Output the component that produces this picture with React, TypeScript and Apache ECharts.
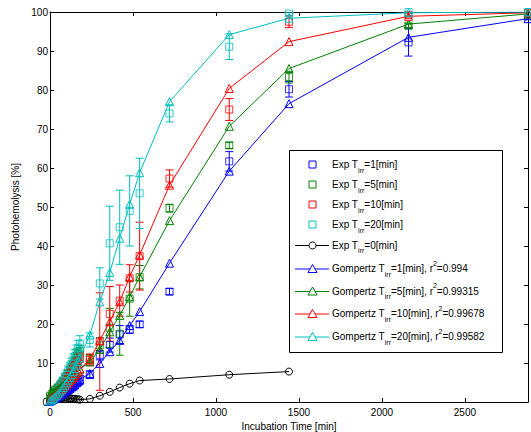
import React, { useEffect, useRef } from 'react';
import * as echarts from 'echarts';

// ---------- data ----------
const times = [0, 10, 20, 30, 40, 50, 60, 70, 80, 90, 100, 110, 120, 130, 140, 150, 160, 170, 180, 240, 300, 360, 420, 480, 540, 720, 1080, 1440, 2160, 2880];
const blackTimes = [0, 10, 20, 30, 40, 50, 60, 70, 80, 90, 100, 110, 120, 130, 140, 150, 160, 170, 180, 240, 300, 360, 420, 480, 540, 720, 1080, 1440];

const fitBlue = [0.3, 0.5, 0.7, 0.9, 1.1, 1.4, 1.7, 2.0, 2.3, 2.6, 2.9, 3.2, 3.5, 3.9, 4.2, 4.6, 5.0, 5.4, 5.8, 7.3, 9.9, 12.9, 15.8, 19.6, 23.2, 35.6, 59.2, 76.5, 93.5, 98.3];
const fitGreen = [1.8, 2.1, 2.4, 2.7, 3.0, 3.3, 3.6, 3.9, 4.2, 4.6, 5.0, 5.4, 5.8, 6.2, 6.6, 7.0, 7.4, 7.9, 8.4, 10.3, 13.5, 18.0, 22.2, 27.0, 32.1, 46.5, 70.7, 85.5, 96.9, 99.5];
const fitRed = [0.6, 0.9, 1.2, 1.5, 1.9, 2.3, 2.7, 3.1, 3.5, 3.9, 4.3, 4.8, 5.3, 5.8, 6.3, 6.8, 7.3, 7.9, 8.5, 10.8, 15.8, 20.6, 25.7, 32.1, 37.7, 55.6, 80.4, 92.4, 98.9, 99.8];
const fitCyan = [0.3, 0.6, 0.9, 1.3, 1.7, 2.1, 2.6, 3.1, 3.7, 4.3, 4.9, 5.6, 6.3, 7.0, 7.8, 8.6, 9.5, 10.4, 11.3, 17.2, 25.7, 33.2, 42.0, 50.7, 58.8, 77.0, 94.2, 98.4, 99.8, 100.0];

const expBlue = [0.0, 0.3, 0.5, 0.8, 1.0, 1.3, 1.6, 1.8, 2.1, 2.5, 2.8, 3.0, 3.4, 3.7, 4.0, 4.4, 4.9, 5.2, 5.7, 7.0, 12.0, 14.6, 17.3, 18.6, 19.9, 28.3, 61.7, 80.2, 92.2, 99.0];
const errBlue = [0.2, 0.3, 0.3, 0.4, 0.4, 0.5, 0.5, 0.5, 0.6, 0.6, 0.7, 0.7, 0.8, 0.8, 0.9, 0.9, 1.0, 1.0, 1.1, 1.0, 1.2, 1.8, 2.3, 1.0, 0.8, 0.8, 2.5, 2.0, 3.5, 1.0];
const expGreen = [1.5, 2.0, 2.6, 3.0, 3.4, 3.8, 4.3, 4.8, 5.4, 6.0, 6.6, 7.3, 8.0, 8.8, 9.6, 10.5, 11.4, 12.4, 13.0, 11.0, 14.5, 19.0, 17.5, 26.5, 32.0, 49.7, 65.8, 83.3, 96.5, 99.6];
const errGreen = [0.3, 0.4, 0.4, 0.5, 0.5, 0.6, 0.6, 0.7, 0.7, 0.8, 0.8, 0.9, 1.0, 1.0, 1.1, 1.2, 1.3, 1.4, 1.5, 1.2, 2.0, 5.0, 5.5, 4.5, 3.0, 1.0, 0.8, 1.5, 0.5, 0.3];
const expRed = [0.8, 1.2, 1.6, 2.0, 2.5, 3.0, 3.5, 4.1, 4.7, 5.3, 6.0, 6.6, 7.3, 8.0, 8.7, 9.4, 10.1, 10.8, 11.5, 10.8, 15.5, 22.6, 26.0, 31.7, 37.4, 57.3, 75.0, 97.5, 99.2, 99.8];
const errRed = [0.3, 0.3, 0.4, 0.4, 0.5, 0.5, 0.6, 0.6, 0.7, 0.7, 0.8, 0.8, 0.9, 0.9, 1.0, 1.0, 1.1, 1.2, 1.3, 1.5, 12.5, 7.0, 4.0, 3.5, 8.7, 2.2, 2.8, 1.5, 0.5, 0.2];
const expCyan = [0.5, 1.0, 1.5, 2.1, 2.7, 3.3, 4.0, 4.7, 5.4, 6.2, 7.0, 7.9, 8.8, 9.7, 10.7, 11.7, 12.8, 13.9, 15.0, 15.9, 30.4, 40.7, 44.8, 49.0, 53.5, 74.0, 91.1, 99.6, 100.0, 100.0];
const errCyan = [0.3, 0.4, 0.5, 0.5, 0.6, 0.7, 0.8, 0.9, 1.0, 1.1, 1.2, 1.3, 1.4, 1.5, 1.6, 1.7, 1.8, 1.9, 2.0, 1.8, 4.0, 9.5, 9.5, 9.0, 9.0, 2.2, 3.3, 0.4, 0.0, 0.0];
const expBlack = [0.2, 0.4, 0.5, 0.6, 0.8, 0.9, 1.0, 1.1, 1.0, 1.2, 1.1, 1.0, 0.9, 0.9, 0.8, 0.8, 0.7, 0.7, 0.6, 0.8, 1.6, 2.6, 3.7, 4.7, 5.5, 5.9, 7.0, 7.8];

const tirr = ['1', '5', '10', '20'];
const r2 = ['0.994', '0.99315', '0.99678', '0.99582'];

// ---------- styling ----------
const BLUE = '#0000ff';
const GREEN = '#008000';
const RED = '#ff0000';
const CYAN = '#00bfbf';
const BLACK = '#000000';
const colors = [BLUE, GREEN, RED, CYAN];
const FONT = 'Liberation Sans, Arial, Helvetica, sans-serif';
const CLEAR = 'rgba(255,255,255,0)';

const pts = (t: number[], v: number[]) => v.map((y, i) => [t[i], y]);
const bars = (t: number[], v: number[], e: number[]) => v.map((y, i) => [t[i], y, e[i]]);

const errorSeries = (data: number[][], color: string) => ({
  type: 'custom',
  clip: true,
  silent: true,
  data,
  encode: { x: 0, y: 1 },
  renderItem: (params: any, api: any) => {
    const t = api.value(0);
    const v = api.value(1);
    const e = api.value(2);
    const hi = api.coord([t, v + e]);
    const lo = api.coord([t, v - e]);
    const w = 4;
    const style = { stroke: color, lineWidth: 1, fill: 'none' };
    return {
      type: 'group',
      children: [
        { type: 'line', shape: { x1: hi[0], y1: hi[1], x2: lo[0], y2: lo[1] }, style },
        { type: 'line', shape: { x1: hi[0] - w, y1: hi[1], x2: hi[0] + w, y2: hi[1] }, style },
        { type: 'line', shape: { x1: lo[0] - w, y1: lo[1], x2: lo[0] + w, y2: lo[1] }, style },
      ],
    };
  },
});

const squareSeries = (data: number[][], color: string) => ({
  type: 'scatter',
  data,
  symbol: 'rect',
  symbolSize: 7,
  silent: true,
  itemStyle: { color: CLEAR, borderColor: color, borderWidth: 1 },
});

const fitSeries = (data: number[][], color: string) => ({
  type: 'line',
  data,
  symbol: 'triangle',
  symbolSize: 8,
  showSymbol: true,
  showAllSymbol: true,
  silent: true,
  lineStyle: { color, width: 1 },
  itemStyle: { color: CLEAR, borderColor: color, borderWidth: 1 },
});

// legend (drawn with graphic)
const LX = 289;
const LY = 150;
const LW = 213;
const LH = 202;
const rowY = [164.5, 184.5, 204.5, 224.5, 245, 268.5, 291, 313.5, 336.5];

function buildLegend() {
  const items: any[] = [];
  items.push({
    type: 'rect',
    shape: { x: LX + 0.5, y: LY + 0.5, width: LW, height: LH },
    style: { fill: '#fff', stroke: '#000', lineWidth: 1 },
    z: 100,
  });
  const rich = {
    n: { fontSize: 10, fontFamily: FONT, lineHeight: 18, verticalAlign: 'middle', fill: '#000' },
    s: { fontSize: 7, fontFamily: FONT, lineHeight: 10, verticalAlign: 'bottom', fill: '#000' },
    p: { fontSize: 7, fontFamily: FONT, lineHeight: 10, verticalAlign: 'top', fill: '#000' },
  };
  const mx = 312.5;
  const lineX1 = 295;
  const lineX2 = 329;
  const tx = 332;
  const entries: { kind: string; color: string; text: string }[] = [];
  tirr.forEach((t, i) => entries.push({ kind: 'sq', color: colors[i], text: `{n|Exp T}{s|irr}{n|=${t}[min]}` }));
  entries.push({ kind: 'circ', color: BLACK, text: `{n|Exp T}{s|irr}{n|=0[min]}` });
  tirr.forEach((t, i) =>
    entries.push({ kind: 'tri', color: colors[i], text: `{n|Gompertz T}{s|irr}{n|=${t}[min], r}{p|2}{n|=${r2[i]}}` })
  );
  entries.forEach((en, i) => {
    const y = rowY[i];
    if (en.kind !== 'sq') {
      items.push({
        type: 'line',
        shape: { x1: lineX1, y1: y + 0.5, x2: lineX2, y2: y + 0.5 },
        style: { stroke: en.color, lineWidth: 1 },
        z: 101,
      });
    }
    if (en.kind === 'sq') {
      items.push({
        type: 'rect',
        shape: { x: mx - 3.5, y: y - 3.5, width: 7, height: 7 },
        style: { fill: 'none', stroke: en.color, lineWidth: 1 },
        z: 102,
      });
    } else if (en.kind === 'circ') {
      items.push({
        type: 'circle',
        shape: { cx: mx, cy: y + 0.5, r: 3.5 },
        style: { fill: '#fff', stroke: en.color, lineWidth: 1 },
        z: 102,
      });
    } else {
      items.push({
        type: 'polygon',
        shape: { points: [[mx, y - 4], [mx - 4.5, y + 4], [mx + 4.5, y + 4]] },
        style: { fill: '#fff', stroke: en.color, lineWidth: 1 },
        z: 102,
      });
    }
    items.push({
      type: 'text',
      x: tx,
      y: y,
      style: { text: en.text, rich, fill: '#000', align: 'left', verticalAlign: 'middle' },
      z: 103,
    });
  });
  return items;
}

export default function App() {
  const ref = useRef<HTMLDivElement>(null);
  useEffect(() => {
    if (!ref.current) return;
    const chart = echarts.init(ref.current, null, { renderer: 'svg' });
    const axisCommon = {
      type: 'value',
      axisLine: { show: true, onZero: false, lineStyle: { color: '#000', width: 1 } },
      axisTick: { show: true, inside: true, length: 4, lineStyle: { color: '#000' } },
      splitLine: { show: false },
    };
    const option: any = {
      animation: false,
      backgroundColor: '#fff',
      grid: { left: 50, right: 3, top: 12, bottom: 30, containLabel: false, outerBoundsMode: 'none' },
      xAxis: [
        {
          ...axisCommon,
          position: 'bottom',
          min: 0,
          max: 2880,
          interval: 500,
          axisLabel: {
            color: '#000',
            fontSize: 10,
            fontFamily: FONT,
            margin: 5,
            showMaxLabel: false,
            formatter: (v: number) => String(v),
          },
          name: 'Incubation Time [min]',
          nameLocation: 'middle',
          nameGap: 16,
          nameTextStyle: { color: '#000', fontSize: 10, fontFamily: FONT },
        },
        {
          ...axisCommon,
          position: 'top',
          min: 0,
          max: 2880,
          interval: 500,
          axisLabel: { show: false },
        },
      ],
      yAxis: [
        {
          ...axisCommon,
          position: 'left',
          min: 0,
          max: 100,
          interval: 10,
          axisLabel: { color: '#000', fontSize: 10, fontFamily: FONT, margin: 2, formatter: (v: number) => String(v) },
          name: 'Photohemolysis [%]',
          nameLocation: 'middle',
          nameGap: 26,
          nameTextStyle: { color: '#000', fontSize: 10, fontFamily: FONT },
        },
        {
          ...axisCommon,
          position: 'right',
          min: 0,
          max: 100,
          interval: 10,
          axisLabel: { show: false },
        },
      ],
      series: [
        errorSeries(bars(times, expBlue, errBlue), BLUE),
        squareSeries(pts(times, expBlue), BLUE),
        errorSeries(bars(times, expGreen, errGreen), GREEN),
        squareSeries(pts(times, expGreen), GREEN),
        errorSeries(bars(times, expRed, errRed), RED),
        squareSeries(pts(times, expRed), RED),
        errorSeries(bars(times, expCyan, errCyan), CYAN),
        squareSeries(pts(times, expCyan), CYAN),
        {
          type: 'line',
          data: pts(blackTimes, expBlack),
          symbol: 'circle',
          symbolSize: 7,
          showSymbol: true,
          showAllSymbol: true,
          silent: true,
          lineStyle: { color: BLACK, width: 1 },
          itemStyle: { color: CLEAR, borderColor: BLACK, borderWidth: 1 },
        },
        fitSeries(pts(times, fitBlue), BLUE),
        fitSeries(pts(times, fitGreen), GREEN),
        fitSeries(pts(times, fitRed), RED),
        fitSeries(pts(times, fitCyan), CYAN),
      ],
      graphic: buildLegend(),
    };
    chart.setOption(option);
    return () => chart.dispose();
  }, []);
  return (
    <div
      ref={ref}
      style={{ position: 'fixed', left: 0, top: 0, width: 531, height: 432, background: '#fff' }}
    />
  );
}
